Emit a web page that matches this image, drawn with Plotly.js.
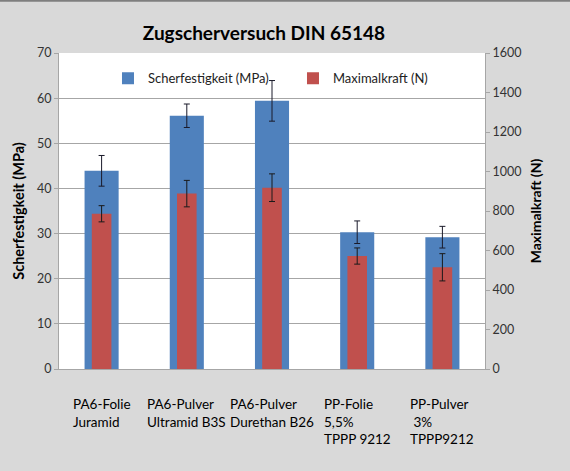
<!DOCTYPE html>
<html>
<head>
<meta charset="utf-8">
<script src="https://cdn.plot.ly/plotly-3.0.1.min.js"></script>
<style>html,body{margin:0;padding:0;background:#d9d9d9;}#chart{width:570px;height:471px;}</style>
</head>
<body>
<div id="chart"></div>
<script>
var categories = ['PA6-Folie<br>Juramid', 'PA6-Pulver<br>Ultramid B3S', 'PA6-Pulver<br>Durethan B26', 'PP-Folie<br>5,5%<br>TPPP 9212', 'PP-Pulver<br> 3%<br>TPPP9212'];
var catKeys = ['c1', 'c2', 'c3', 'c4', 'c5'];
var scherfestigkeit = [43.9, 56.1, 59.4, 30.3, 29.2];
var scherfestigkeitErr = [3.4, 2.6, 4.5, 2.5, 2.4];
var maximalkraft = [786, 888, 918, 572, 515];
var maximalkraftErr = [41, 67, 70, 41, 69];
var leftTicks = [0, 10, 20, 30, 40, 50, 60, 70];
var rightTicks = [0, 200, 400, 600, 800, 1000, 1200, 1400, 1600];

var FONT = 'Lato, "Open Sans", sans-serif';

var traces = [
  {
    type: 'bar', name: 'Scherfestigkeit (MPa)', x: catKeys, y: scherfestigkeit,
    marker: {color: '#4f81bd'}, width: 0.4, yaxis: 'y',
    error_y: {type: 'data', array: scherfestigkeitErr, visible: true, color: '#1a1a2a', thickness: 1, width: 3}
  },
  {
    type: 'bar', name: 'Maximalkraft (N)', x: catKeys, y: maximalkraft,
    marker: {color: '#c0504d'}, width: 0.23, yaxis: 'y2',
    error_y: {type: 'data', array: maximalkraftErr, visible: true, color: '#1a1a1a', thickness: 1, width: 3}
  }
];

var annotations = catKeys.map(function (k, i) {
  return {
    x: k, xref: 'x', y: -0.08, yref: 'paper', yanchor: 'top', xanchor: 'center',
    text: categories[i], align: 'left', showarrow: false,
    font: {family: FONT, size: 13.5, color: '#000'}
  };
});

var layout = {
  width: 570, height: 471,
  margin: {l: 59, r: 85, t: 53, b: 102},
  paper_bgcolor: '#d9d9d9', plot_bgcolor: '#ffffff',
  barmode: 'overlay',
  font: {family: FONT, color: '#222'},
  title: {
    text: '<b>Zugscherversuch DIN 65148</b>',
    font: {family: FONT, size: 19, color: '#000'},
    x: 0.463, xref: 'container', xanchor: 'center', y: 0.93, yref: 'container', yanchor: 'middle'
  },
  xaxis: {
    type: 'category', showticklabels: false, showgrid: false, zeroline: false,
    showline: true, linecolor: '#a6a6a6', linewidth: 1, ticks: '', range: [-0.5, 4.5]
  },
  yaxis: {
    range: [0, 70], tickvals: leftTicks, ticktext: leftTicks.map(String),
    showgrid: true, gridcolor: '#a6a6a6', gridwidth: 1, zeroline: false,
    showline: true, linecolor: '#a6a6a6', ticks: 'outside', ticklen: 4, tickcolor: '#a6a6a6',
    tickfont: {family: FONT, size: 12.5, color: '#333'},
    title: {text: '<b>Scherfestigkeit (MPa)</b>', font: {family: FONT, size: 14.5, color: '#000'}, standoff: 8}
  },
  yaxis2: {
    range: [0, 1600], tickvals: rightTicks, ticktext: rightTicks.map(String),
    overlaying: 'y', side: 'right', showgrid: false, zeroline: false,
    showline: true, linecolor: '#a6a6a6', ticks: 'outside', ticklen: 4, tickcolor: '#a6a6a6',
    tickfont: {family: FONT, size: 12.5, color: '#333'},
    title: {text: '<b>Maximalkraft (N)</b>', font: {family: FONT, size: 14, color: '#000'}, standoff: 10}
  },
  legend: {
    orientation: 'h', x: 0.115, xanchor: 'left', y: 0.92, yanchor: 'middle',
    bgcolor: 'rgba(0,0,0,0)', font: {family: FONT, size: 13, color: '#222'},
    entrywidth: 140, entrywidthmode: 'pixels', traceorder: 'normal'
  },
  annotations: annotations,
  shapes: [{
    type: 'line', xref: 'paper', yref: 'paper', x0: -0.2, x1: 1.3, y0: 1.165, y1: 1.165,
    line: {color: '#7f7f7f', width: 2}
  }],
  showlegend: true
};

Plotly.newPlot('chart', traces, layout, {displayModeBar: false, staticPlot: true});
</script>
</body>
</html>
